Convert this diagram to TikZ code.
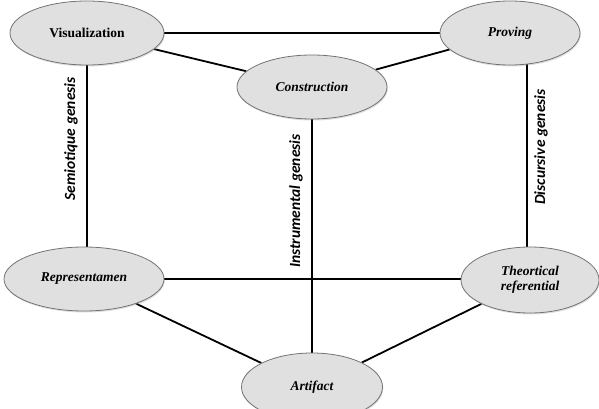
\documentclass[tikz,border=0pt]{standalone}
\usepackage{fontspec}
\setmainfont{Liberation Serif}
\newfontfamily\genfont{Carlito}
\usetikzlibrary{shapes.geometric,shadows,backgrounds}
\begin{document}
\begin{tikzpicture}[x=1pt,y=-1pt,
  genbox/.style={ellipse,draw=black!55,line width=0.8pt,fill=black!12,
    inner sep=0pt,minimum width=#1,minimum height=64pt,align=center,
    font=\fontsize{13.5}{15}\selectfont\bfseries\itshape,
    drop shadow={opacity=0.25,shadow xshift=0.8pt,shadow yshift=-1.5pt}},
  genbox/.default=150pt,
  thin link/.style={line width=1.3pt},
  thick link/.style={line width=1.8pt},
  gen label/.style={rotate=90,font=\genfont\fontsize{15.5}{17}\selectfont\bfseries\itshape}]
\useasboundingbox (0,0) rectangle (599,409);
\node[genbox=154pt,font=\fontsize{13.5}{15}\selectfont\bfseries] (vis) at (87,33) {Visualization};
\node[genbox=140pt] (prov) at (510,33) {Proving};
\node[genbox=150pt] (con) at (312,87) {Construction};
\node[genbox=160pt] (rep) at (84,279) {Representamen};
\node[genbox=138pt,minimum height=66pt] (the) at (530,280) {Theortical\\referential};
\node[genbox=141pt,minimum height=68pt] (art) at (312,387) {Artifact};
\begin{scope}[on background layer]
\draw[thin link] (vis) -- (prov);
\draw[thick link] (vis) -- (con);
\draw[thick link] (con) -- (prov);
\draw[thin link] (vis.center -| rep.center) ++(3,0) coordinate (vtop) -- (vtop |- rep.center);
\draw[thin link] (prov.center -| the.center) ++(-3,0) coordinate (ptop) -- (ptop |- the.center);
\draw[thin link] (con) -- (art);
\draw[thin link] (rep) -- (rep -| the);
\draw[thick link] (rep) -- (art);
\draw[thick link] (art) -- (the);
\end{scope}
\node[gen label] (semio) at (71,139) {Semiotique genesis};
\node[gen label] (instr) at (296,201) {Instrumental genesis};
\node[gen label] (disc) at (541,147) {Discursive genesis};
\end{tikzpicture}
\end{document}
